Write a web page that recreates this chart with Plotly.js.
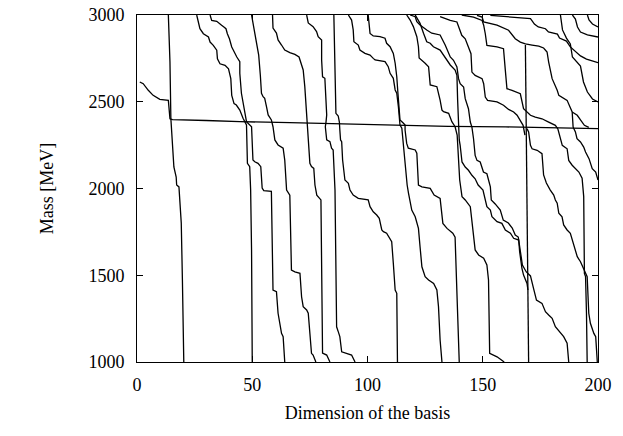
<!DOCTYPE html>
<html>
<head>
<meta charset="utf-8">
<script src="https://cdn.plot.ly/plotly-3.0.1.min.js"></script>
<style>html,body{margin:0;padding:0;background:#fff;}#chart{width:623px;height:436px;}</style>
</head>
<body>
<div id="chart"></div>
<script>
// Eigenvalue curves: x = dimension of the basis, y = mass [MeV]
const L00_x = [1.2, 2.7, 4.9, 7.0, 9.9, 13.1, 13.6, 14.3, 15.4, 30, 44.6, 66.3, 80, 100, 115, 135, 160, 180, 200];
const L00_y = [2614, 2604, 2566, 2537, 2514, 2512, 2508, 2402, 2397, 2392, 2385, 2380, 2375, 2367, 2362, 2358, 2355, 2352, 2345];

const L01_x = [13.6, 14.3, 14.7, 15.6, 16.0, 17.0, 17.2, 18.2, 19.2, 19.7, 20.3];
const L01_y = [3000, 2729, 2402, 2164, 2124, 2066, 2020, 2009, 1801, 1473, 1000];

const L02_x = [25.9, 26.6, 27.3, 28.8, 31.0, 31.7, 33.1, 34.6, 34.9, 36.0, 38.2, 39.7, 40.7, 41.1, 42.1, 43.1, 44.6, 46.0, 46.7, 47.5, 47.9, 48.9, 49.3, 49.7, 50.0];
const L02_y = [3000, 2960, 2921, 2892, 2873, 2844, 2825, 2797, 2748, 2719, 2710, 2690, 2633, 2537, 2489, 2481, 2452, 2405, 2385, 2366, 2145, 2126, 1991, 1646, 1000];

const L03_x = [31.7, 32.4, 34.6, 35.7, 36.7, 37.7, 38.6, 39.2, 40.1, 41.1, 41.8, 42.5, 43.3, 44.6, 44.6, 45.3, 46.0, 46.4, 47.0, 47.5, 49.7, 50.3, 51.1, 52.5, 53.7, 54.3, 55.0, 58.3, 59.0, 60.5, 61.2, 62.7, 63.4, 64.1];
const L03_y = [3000, 2969, 2964, 2950, 2941, 2931, 2921, 2892, 2863, 2816, 2797, 2777, 2758, 2731, 2664, 2549, 2491, 2452, 2405, 2385, 2356, 2164, 2154, 2145, 2126, 2003, 1988, 1983, 1415, 1405, 1281, 1165, 1146, 1000];

const L04_x = [49.7, 51.1, 52.8, 53.5, 54.0, 54.7, 55.4, 56.2, 56.9, 58.3, 59.0, 59.8, 61.2, 63.4, 64.1, 64.9, 66.3, 67.0, 68.5, 70.7, 71.4, 72.1, 73.6, 74.3, 75.0, 75.7, 76.4, 77.6];
const L04_y = [3000, 2885, 2769, 2654, 2549, 2529, 2520, 2471, 2424, 2395, 2356, 2280, 2251, 2232, 2164, 1991, 1962, 1530, 1520, 1511, 1376, 1319, 1300, 1281, 1184, 1050, 1040, 1000];

const L05_x = [58.8, 59.0, 60.5, 61.2, 62.7, 64.1, 66.3, 68.5, 70.3, 71.1, 72.1, 72.8, 73.3, 73.8, 74.7, 75.0, 75.7, 76.7, 77.2, 78.0, 79.8, 80.5, 82.3, 83.7];
const L05_y = [3000, 2925, 2896, 2856, 2827, 2798, 2783, 2773, 2758, 2722, 2683, 2587, 2491, 2385, 2260, 2145, 2126, 2116, 2020, 1962, 1934, 1052, 1040, 1000];

const L06_x = [73.6, 74.3, 76.4, 77.9, 78.6, 80.1, 80.1, 80.5, 81.5, 82.0, 82.3, 82.0, 81.7, 82.3, 83.7, 84.4, 85.1, 85.9, 86.6, 87.3, 88.0, 88.8, 91.0, 93.1, 94.6];
const L06_y = [3000, 2954, 2933, 2904, 2875, 2856, 2741, 2644, 2635, 2529, 2424, 2383, 2356, 2280, 2270, 2232, 2222, 1991, 1203, 1175, 1146, 1059, 1050, 1040, 1000];

const L07_x = [85.4, 85.9, 86.3, 87.3, 87.8, 88.0, 88.3, 88.8, 89.2, 90.2, 91.7, 92.4, 93.8, 96.0, 100.3, 101.1, 102.5, 104.0, 105.1, 106.2, 106.9, 108.3, 109.8, 110.5, 111.2, 112.0, 112.7, 113.0];
const L07_y = [3000, 2741, 2433, 2418, 2383, 2337, 2280, 2270, 2164, 2049, 2030, 1991, 1962, 1943, 1934, 1895, 1866, 1847, 1828, 1761, 1751, 1742, 1703, 1693, 1569, 1415, 1396, 1000];

const L08_x = [91.7, 93.1, 93.8, 94.1, 96.0, 96.7, 98.9, 101.1, 102.5, 103.3, 107.6, 109.0, 109.8, 111.2, 112.0, 112.7, 113.4, 113.7, 114.1, 114.9, 115.6, 116.0, 116.6, 117.2, 117.8, 118.5, 119.2, 120.7, 121.4, 122.1, 122.8, 123.6, 125.0, 126.5, 128.7, 129.3, 130.1, 130.8, 131.5, 132.3];
const L08_y = [3000, 2971, 2914, 2846, 2827, 2798, 2779, 2769, 2750, 2741, 2731, 2702, 2664, 2635, 2568, 2549, 2471, 2395, 2366, 2347, 2241, 2164, 2088, 2020, 1972, 1915, 1876, 1837, 1799, 1770, 1664, 1549, 1492, 1473, 1453, 1434, 1415, 1319, 1127, 1000];

const L09_x = [100.3, 100.8, 101.1, 102.5, 105.4, 107.6, 108.3, 109.8, 111.2, 112.0, 112.7, 113.2, 113.5, 114.1, 115.6, 116.3, 116.3, 117.0, 117.7, 120.7, 121.4, 122.1, 123.6, 127.2, 128.9, 131.5, 132.7, 134.5, 137.0, 138.0, 138.9, 139.8];
const L09_y = [3000, 2942, 2894, 2879, 2875, 2866, 2837, 2817, 2779, 2722, 2644, 2549, 2471, 2395, 2376, 2366, 2337, 2260, 2232, 2222, 2203, 2020, 2010, 2001, 1962, 1943, 1799, 1770, 1742, 1720, 1357, 1000];

const L10_x = [117.0, 118.5, 119.9, 121.4, 122.1, 122.4, 125.0, 126.5, 127.2, 130.1, 131.5, 132.3, 133.0, 135.2, 136.6, 138.0, 138.9, 139.5, 140.0, 141.0, 142.4, 144.6, 145.3, 146.0, 146.7, 148.2, 150.4, 151.8, 152.5, 153.0, 154.7, 156.2, 159.3];
const L10_y = [3000, 2971, 2933, 2875, 2817, 2752, 2722, 2702, 2597, 2587, 2510, 2452, 2443, 2433, 2385, 2356, 2308, 2164, 2049, 1953, 1934, 1895, 1818, 1713, 1646, 1617, 1598, 1559, 1473, 1050, 1040, 1030, 1000];

const L11_x = [120.7, 122.8, 124.3, 125.7, 127.2, 128.6, 131.5, 134.4, 135.9, 138.0, 138.8, 139.1, 139.5, 139.8, 140.2, 141.0, 142.4, 143.8, 145.3, 146.7, 148.0, 150.1, 151.8, 153.3, 154.0, 156.2, 158.3, 159.8, 162.0, 163.4, 165.6, 166.0, 167.0, 167.7, 169.2, 169.6];
const L11_y = [3000, 2952, 2895, 2846, 2837, 2817, 2798, 2741, 2712, 2683, 2652, 2510, 2366, 2280, 2249, 2153, 2124, 2105, 2076, 2056, 2020, 1991, 1895, 1876, 1837, 1809, 1799, 1761, 1742, 1713, 1703, 1636, 1540, 1501, 1453, 1415];

const L12_x = [118.5, 120.7, 121.4, 122.8, 125.7, 127.9, 131.5, 133.7, 135.9, 137.3, 138.8, 139.5, 140.2, 141.7, 142.4, 143.1, 143.8, 144.6, 145.3, 146.0, 146.7, 147.5, 148.9, 150.3, 151.8, 153.3, 153.7, 155.4, 157.6, 158.9, 161.1, 162.8, 164.1, 165.4, 166.3, 167.2, 168.9, 170.7, 172.0, 173.3, 175.7, 177.2, 178.6, 180.1, 181.5, 183.7, 185.1, 186.6, 187.3];
const L12_y = [3000, 2990, 2961, 2942, 2914, 2895, 2885, 2827, 2758, 2739, 2700, 2633, 2604, 2585, 2518, 2480, 2460, 2383, 2354, 2287, 2191, 2162, 2153, 2095, 2085, 2009, 1934, 1911, 1876, 1818, 1801, 1772, 1732, 1720, 1646, 1559, 1519, 1496, 1426, 1357, 1338, 1290, 1271, 1252, 1203, 1165, 1146, 1108, 1000];

const L13_x = [131.5, 135.9, 138.8, 139.9, 140.9, 142.4, 143.8, 144.9, 145.3, 146.7, 149.7, 150.4, 151.1, 152.1, 156.2, 159.0, 161.2, 163.4, 164.9, 166.3, 167.5, 168.3];
const L13_y = [2991, 2969, 2960, 2921, 2883, 2863, 2816, 2777, 2671, 2652, 2633, 2604, 2527, 2508, 2499, 2480, 2456, 2441, 2422, 2393, 2364, 2308];

const L14_x = [140.9, 146.0, 149.7, 150.4, 151.1, 151.8, 156.2, 159.0, 159.8, 160.5, 162.7, 164.9, 166.3, 167.7, 169.2, 170.7, 172.8, 175.7, 178.6, 181.5, 182.6, 183.7, 184.5, 186.6, 187.3, 188.8, 190.2, 191.7, 193.1, 193.8, 194.1, 194.6, 195.0, 195.3];
const L14_y = [3000, 2988, 2969, 2941, 2892, 2825, 2816, 2806, 2681, 2575, 2566, 2556, 2546, 2460, 2441, 2422, 2412, 2402, 2383, 2364, 2343, 2278, 2249, 2229, 2162, 2134, 2114, 2095, 2060, 1953, 1511, 1492, 1281, 1000];

const L15_x = [147.5, 149.7, 150.4, 156.2, 161.2, 162.7, 164.1, 166.3, 168.5, 171.4, 174.3, 176.4, 177.9, 178.6, 180.1, 182.3, 183.0, 186.6, 188.0, 188.8, 189.2, 190.2, 190.9, 192.4, 193.8, 194.6, 196.1, 196.7, 197.5, 199.0, 200.0];
const L15_y = [2998, 2988, 2960, 2941, 2912, 2883, 2863, 2844, 2833, 2827, 2821, 2810, 2787, 2729, 2633, 2566, 2537, 2508, 2460, 2441, 2354, 2326, 2287, 2268, 2239, 2210, 2172, 2143, 2114, 2095, 2049];

const L16_x = [153.3, 162.0, 170.7, 171.5, 172.4, 174.1, 177.2, 178.5, 182.4, 183.3, 186.3, 188.0, 190.2, 192.4, 195.0, 197.6, 200.0];
const L16_y = [2998, 2988, 2979, 2965, 2948, 2931, 2921, 2902, 2890, 2867, 2850, 2816, 2792, 2764, 2746, 2733, 2725];

const L17_x = [168.5, 168.7, 168.9, 169.1, 169.3, 169.6, 169.9];
const L17_y = [2827, 2510, 2366, 2049, 1646, 1415, 1000];

const L18_x = [169.2, 169.9, 170.7, 171.4, 173.6, 175.0, 175.7, 176.4, 177.6, 179.3, 180.8, 181.5, 182.3, 183.0, 184.4, 185.1, 186.6, 188.0, 188.8, 189.5, 191.0, 192.4, 193.8, 194.6, 195.3, 196.0, 196.7, 198.2, 199.0, 199.7];
const L18_y = [2345, 2326, 2249, 2229, 2220, 2210, 2201, 2078, 2032, 1991, 1962, 1934, 1915, 1857, 1837, 1790, 1761, 1742, 1703, 1664, 1607, 1578, 1540, 1511, 1492, 1281, 1223, 1165, 1146, 1000];

const L19_x = [183.7, 184.6, 186.3, 188.0, 188.9, 190.7, 192.4, 193.7, 195.4, 197.6, 200.0];
const L19_y = [3000, 2914, 2867, 2833, 2758, 2729, 2706, 2614, 2556, 2516, 2499];

const L20_x = [188.9, 190.2, 191.1, 192.4, 195.4, 200.0];
const L20_y = [3000, 2977, 2931, 2902, 2885, 2873];

const L21_x = [195.4, 196.1, 197.6, 200.0];
const L21_y = [3000, 2971, 2948, 2931];

const L22_x = [188.8, 191.0, 192.4, 194.1, 196.0];
const L22_y = [2441, 2422, 2395, 2364, 2352];

const xTicks = [0, 50, 100, 150, 200];
const yTicks = [1000, 1500, 2000, 2500, 3000];
const xTitle = 'Dimension of the basis';
const yTitle = 'Mass [MeV]';

const curves = [
  [L00_x, L00_y], [L01_x, L01_y], [L02_x, L02_y], [L03_x, L03_y], [L04_x, L04_y],
  [L05_x, L05_y], [L06_x, L06_y], [L07_x, L07_y], [L08_x, L08_y], [L09_x, L09_y],
  [L10_x, L10_y], [L11_x, L11_y], [L12_x, L12_y], [L13_x, L13_y], [L14_x, L14_y],
  [L15_x, L15_y], [L16_x, L16_y], [L17_x, L17_y], [L18_x, L18_y], [L19_x, L19_y],
  [L20_x, L20_y], [L21_x, L21_y], [L22_x, L22_y]
];

const traces = curves.map(c => ({
  type: 'scatter', mode: 'lines', x: c[0], y: c[1],
  line: {color: '#000', width: 1.3}, hoverinfo: 'skip', showlegend: false
}));

const font = {family: '"Liberation Serif", "Times New Roman", serif', size: 18, color: '#000'};
const axisCommon = {
  showline: true, linecolor: '#000', linewidth: 1, mirror: 'ticks',
  ticks: 'inside', ticklen: 6, tickwidth: 1, tickcolor: '#000',
  showgrid: false, zeroline: false, tickfont: font, fixedrange: true
};

const layout = {
  width: 623, height: 436,
  margin: {l: 137, r: 25, t: 15, b: 74},
  paper_bgcolor: '#fff', plot_bgcolor: '#fff',
  showlegend: false,
  xaxis: Object.assign({}, axisCommon, {
    range: [0, 200], tickvals: xTicks, ticktext: xTicks.map(String),
    ticklabelstandoff: 6,
    title: {text: xTitle, font: font, standoff: 12}
  }),
  yaxis: Object.assign({}, axisCommon, {
    range: [1000, 3000], tickvals: yTicks, ticktext: yTicks.map(String),
    ticklabelstandoff: 8,
    title: {text: yTitle, font: font, standoff: 30}
  })
};

Plotly.newPlot('chart', traces, layout, {displayModeBar: false, staticPlot: true});
</script>
</body>
</html>
